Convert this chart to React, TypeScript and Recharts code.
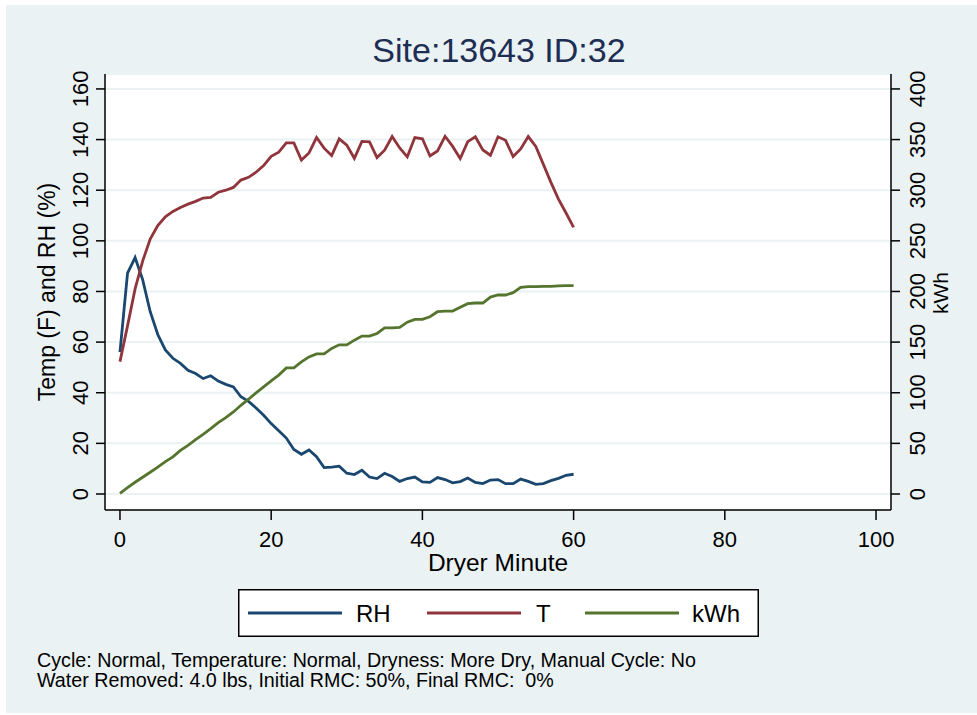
import React from 'react';
import { ComposedChart, Line, XAxis, YAxis, CartesianGrid } from 'recharts';

// Dryer cycle log: one reading per minute
const minutes = [
  0, 1, 2, 3, 4, 5, 6, 7, 8, 9, 10, 11, 12, 13, 14, 15, 16, 17, 18, 19, 20,
  21, 22, 23, 24, 25, 26, 27, 28, 29, 30, 31, 32, 33, 34, 35, 36, 37, 38, 39, 40,
  41, 42, 43, 44, 45, 46, 47, 48, 49, 50, 51, 52, 53, 54, 55, 56, 57, 58, 59, 60,
];

// Relative humidity (%)
const rhValues = [
  56, 87.2, 93.4, 84.7, 72, 63, 56.9, 53.6, 51.6, 48.9,
  47.6, 45.6, 46.7, 44.6, 43.3, 42.3, 38.4, 36.6, 34, 31.1,
  27.8, 25, 22.1, 17.6, 15.7, 17.4, 14.7, 10.4, 10.6, 11.0,
  8.2, 7.7, 9.4, 6.7, 6.1, 8.2, 6.9, 5.0, 6.1, 6.7,
  4.8, 4.6, 6.5, 5.7, 4.4, 4.9, 6.3, 4.6, 4.1, 5.5,
  5.7, 4.1, 4.1, 5.9, 5.0, 3.8, 4.1, 5.3, 6.2, 7.4, 7.8,
];

// Exhaust temperature (F)
const tempValues = [
  52.3, 66.4, 81, 92, 100.7, 106, 109.5, 111.6, 113.2, 114.5,
  115.6, 116.9, 117.2, 119.2, 120, 121.1, 124, 125.1, 127.1, 129.7,
  133.4, 135, 138.7, 138.7, 131.9, 134.7, 140.8, 136.6, 133.7, 140.3,
  137.8, 132.6, 139.3, 139.1, 132.9, 135.8, 141.2, 136.7, 133.2, 140.8,
  140.3, 133.5, 135.5, 141.3, 137.3, 132.5, 139.2, 141.1, 135.9, 133.8,
  141.1, 139.7, 133.3, 136.3, 141.2, 137.3, 130.2, 123.1, 116.5, 111, 105.3,
];

// Cumulative energy (right axis)
const kwhValues = [
  0.7, 6.3, 11.6, 16.5, 21.5, 26.5, 32, 36.7, 43, 48,
  53.6, 58.9, 64.5, 70.4, 75.4, 81, 87.6, 93.6, 99.9, 105.8,
  111.8, 117.4, 124.5, 124.5, 130.4, 135.4, 138.4, 138.4, 143.7, 147.3,
  147.3, 151.9, 155.9, 155.9, 158.5, 164.1, 164.1, 164.5, 169.7, 172.4,
  172.4, 175, 180, 180.6, 180.6, 184.3, 187.9, 188.6, 188.6, 194.5,
  196.5, 196.5, 198.8, 204.1, 204.8, 204.8, 205.1, 205.1, 205.5, 205.8, 205.8,
];

const minuteTicks = [0, 20, 40, 60, 80, 100];
const leftTicks = [0, 20, 40, 60, 80, 100, 120, 140, 160];
const rightTicks = [0, 50, 100, 150, 200, 250, 300, 350, 400];

const seriesNames = ['RH', 'T', 'kWh'];
const seriesColors = ['#1A476F', '#90353B', '#55752F'];

const titleText = 'Site:13643 ID:32';
const xTitle = 'Dryer Minute';
const leftTitle = 'Temp (F) and RH (%)';
const rightTitle = 'kWh';
const noteLines = [
  'Cycle: Normal, Temperature: Normal, Dryness: More Dry, Manual Cycle: No',
  'Water Removed: 4.0 lbs, Initial RMC: 50%, Final RMC:  0%',
];

const rows = minutes.map((m, i) => ({
  minute: m,
  rh: rhValues[i],
  t: tempValues[i],
  kwh: kwhValues[i],
}));

const FONT = '"Liberation Sans", Arial, Helvetica, sans-serif';
const BG = '#EAF2F3';
const AXIS_FONT = 22;

const LeftTick = (props: any) => {
  const { x, y, payload } = props;
  return (
    <text
      transform={`translate(${x - 14},${y}) rotate(-90)`}
      textAnchor="middle"
      dominantBaseline="central"
      fontSize={AXIS_FONT}
      fontFamily={FONT}
      fill="#000"
    >
      {payload.value}
    </text>
  );
};

const RightTick = (props: any) => {
  const { x, y, payload } = props;
  return (
    <text
      transform={`translate(${x + 15},${y}) rotate(-90)`}
      textAnchor="middle"
      dominantBaseline="central"
      fontSize={AXIS_FONT}
      fontFamily={FONT}
      fill="#000"
    >
      {payload.value}
    </text>
  );
};

const BottomTick = (props: any) => {
  const { x, y, payload } = props;
  return (
    <text
      x={x}
      y={y + 17}
      textAnchor="middle"
      dominantBaseline="central"
      fontSize={AXIS_FONT}
      fontFamily={FONT}
      fill="#000"
    >
      {payload.value}
    </text>
  );
};

const LegendBox = () => {
  const keys = [
    { line: 10, text: 118 },
    { line: 189, text: 298 },
    { line: 347, text: 454 },
  ];
  return (
    <svg
      width={521}
      height={48}
      style={{ position: 'absolute', left: 238, top: 589, overflow: 'visible' }}
    >
      <rect x={0.75} y={0.75} width={519.5} height={46.5} fill="#fff" stroke="#000" strokeWidth={1.5} />
      {seriesNames.map((name, i) => (
        <g key={name}>
          <line
            x1={keys[i].line}
            x2={keys[i].line + 94}
            y1={24}
            y2={24}
            stroke={seriesColors[i]}
            strokeWidth={3}
          />
          <text
            x={keys[i].text}
            y={24}
            dominantBaseline="central"
            fontSize={24}
            fontFamily={FONT}
            fill="#000"
          >
            {name}
          </text>
        </g>
      ))}
    </svg>
  );
};

export default function App() {
  return (
    <div
      style={{
        position: 'absolute',
        left: 0,
        top: 0,
        width: 977,
        height: 715,
        background: '#fff',
        fontFamily: FONT,
        overflow: 'hidden',
      }}
    >
      <div style={{ position: 'absolute', left: 6, top: 5, width: 971, height: 708, background: BG }} />

      <div
        style={{
          position: 'absolute',
          left: 0,
          top: 30,
          width: 998,
          textAlign: 'center',
          fontSize: 34,
          lineHeight: '40px',
          color: '#1E2D53',
        }}
      >
        {titleText}
      </div>

      <div style={{ position: 'absolute', left: 0, top: 0 }}>
        <ComposedChart
          width={977}
          height={715}
          data={rows}
          margin={{ top: 74, right: 26, bottom: 155, left: 45 }}
        >
          <CartesianGrid
            yAxisId="left"
            vertical={false}
            stroke={BG}
            strokeWidth={2}
            fill="#fff"
            fillOpacity={1}
          />
          <XAxis
            dataKey="minute"
            type="number"
            domain={[-1.98, 101.98]}
            allowDataOverflow
            ticks={minuteTicks}
            interval={0}
            height={50}
            tickSize={10}
            tickMargin={2}
            axisLine={{ stroke: '#000', strokeWidth: 1.5 }}
            tickLine={{ stroke: '#000', strokeWidth: 1.5 }}
            tick={<BottomTick />}
          />
          <YAxis
            yAxisId="left"
            type="number"
            domain={[-6.32, 165.9]}
            allowDataOverflow
            ticks={leftTicks}
            interval={0}
            width={60}
            tickSize={9}
            tickMargin={2}
            axisLine={{ stroke: '#000', strokeWidth: 1.5 }}
            tickLine={{ stroke: '#000', strokeWidth: 1.5 }}
            tick={<LeftTick />}
          />
          <YAxis
            yAxisId="right"
            orientation="right"
            type="number"
            domain={[-15.8, 414.75]}
            allowDataOverflow
            ticks={rightTicks}
            interval={0}
            width={60}
            tickSize={9}
            tickMargin={2}
            axisLine={{ stroke: '#000', strokeWidth: 1.5 }}
            tickLine={{ stroke: '#000', strokeWidth: 1.5 }}
            tick={<RightTick />}
          />
          <Line
            yAxisId="left"
            type="linear"
            dataKey="rh"
            name={seriesNames[0]}
            stroke={seriesColors[0]}
            strokeWidth={2.8}
            dot={false}
            isAnimationActive={false}
          />
          <Line
            yAxisId="left"
            type="linear"
            dataKey="t"
            name={seriesNames[1]}
            stroke={seriesColors[1]}
            strokeWidth={2.8}
            dot={false}
            isAnimationActive={false}
          />
          <Line
            yAxisId="right"
            type="linear"
            dataKey="kwh"
            name={seriesNames[2]}
            stroke={seriesColors[2]}
            strokeWidth={2.8}
            dot={false}
            isAnimationActive={false}
          />
        </ComposedChart>
      </div>

      <div
        style={{
          position: 'absolute',
          left: 47 - 200,
          top: 292 - 14,
          width: 400,
          height: 28,
          lineHeight: '28px',
          textAlign: 'center',
          fontSize: 23,
          transform: 'rotate(-90deg)',
          color: '#000',
        }}
      >
        {leftTitle}
      </div>
      <div
        style={{
          position: 'absolute',
          left: 941 - 50,
          top: 293 - 12,
          width: 100,
          height: 24,
          lineHeight: '24px',
          textAlign: 'center',
          fontSize: 21,
          transform: 'rotate(-90deg)',
          color: '#000',
        }}
      >
        {rightTitle}
      </div>
      <div
        style={{
          position: 'absolute',
          left: 298,
          top: 563 - 14,
          width: 400,
          lineHeight: '28px',
          textAlign: 'center',
          fontSize: 24.5,
          color: '#000',
        }}
      >
        {xTitle}
      </div>

      <LegendBox />

      <div
        style={{
          position: 'absolute',
          left: 37,
          top: 650,
          fontSize: 19.7,
          lineHeight: '20px',
          color: '#000',
          whiteSpace: 'pre',
        }}
      >
        {noteLines.map((l) => (
          <div key={l}>{l}</div>
        ))}
      </div>
    </div>
  );
}
